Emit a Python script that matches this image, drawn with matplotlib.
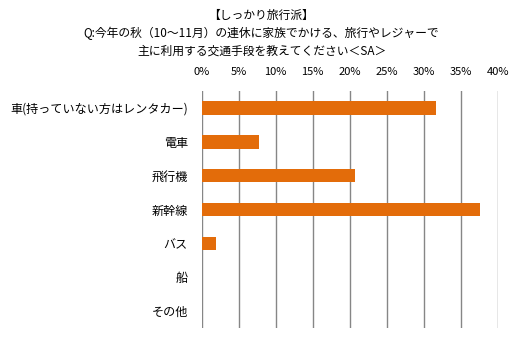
import matplotlib.pyplot as plt

plt.rcParams['font.family'] = ['Noto Sans CJK JP', 'DejaVu Sans']

# データ
categories = ['車(持っていない方はレンタカー)', '電車', '飛行機', '新幹線', 'バス', '船', 'その他']
values = [31.6, 7.8, 20.7, 37.6, 1.9, 0.0, 0.0]
xticks = [0, 5, 10, 15, 20, 25, 30, 35, 40]

fig = plt.figure(figsize=(5.23, 3.37), dpi=100)
ax = fig.add_axes([0.3857, 0.027, 0.566, 0.703])

pos = list(range(len(categories)))
ax.barh(pos, values, height=0.4, color='#E36C0A', zorder=3)
ax.set_ylim(len(categories) - 0.5, -0.5)
ax.set_xlim(0, 40)
ax.set_yticks(pos)
ax.set_yticklabels(categories, fontsize=8.7)
ax.set_xticks(xticks)
ax.set_xticklabels([f'{t}%' for t in xticks], fontsize=8)
ax.xaxis.tick_top()
ax.tick_params(axis='y', length=0, pad=10)
ax.tick_params(axis='x', length=0, pad=10)
ax.grid(axis='x', color='#868686', linewidth=1, zorder=0)
for s in ax.spines.values():
    s.set_visible(False)

fig.text(0.5, 0.955, '【しっかり旅行派】', ha='center', va='center', fontsize=8.5)
fig.text(0.5, 0.90, 'Q:今年の秋（10～11月）の連休に家族でかける、旅行やレジャーで', ha='center', va='center', fontsize=8.5)
fig.text(0.5, 0.848, '主に利用する交通手段を教えてください＜SA＞', ha='center', va='center', fontsize=8.5)

fig.savefig('out.png', dpi=100)
plt.close()
